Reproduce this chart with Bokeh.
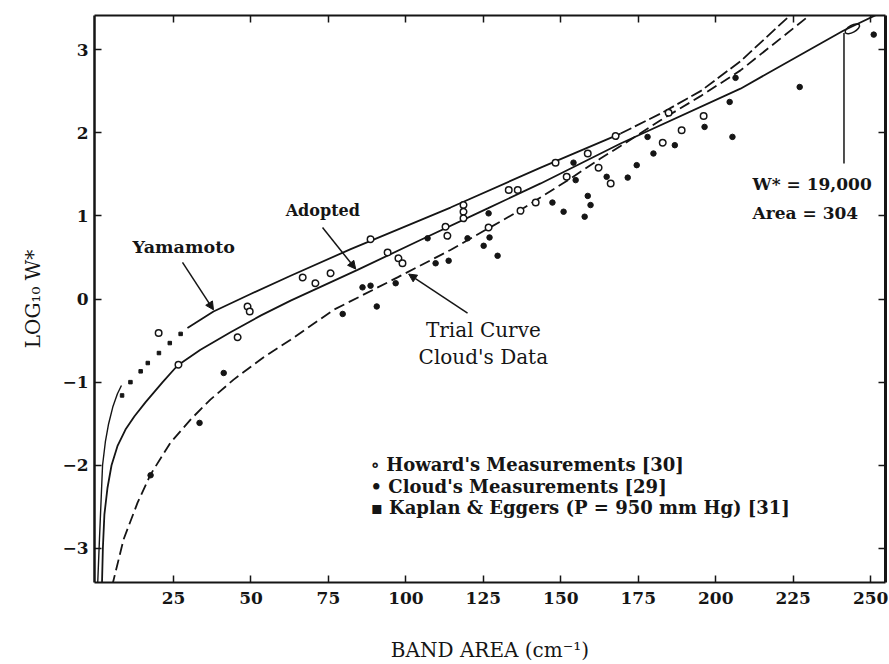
from bokeh.plotting import figure
from bokeh.models import (Range1d, LinearAxis, FixedTicker, Label, Arrow,
                          NormalHead, CustomJSTickFormatter)
from bokeh.embed import file_html
from bokeh.resources import INLINE

# ---------------- data ----------------
x_ticks = [25, 50, 75, 100, 125, 150, 175, 200, 225, 250]
y_ticks = [-3, -2, -1, 0, 1, 2, 3]

# Yamamoto curve (lower thin part, middle solid part, upper dashed part)
yam_low_x = [0.5, 1.1, 2.1, 3.0, 4.0, 5.4, 6.9, 8.2]
yam_low_y = [-3.45, -2.89, -2.00, -1.72, -1.51, -1.30, -1.14, -1.04]
yam_mid_x = [29.5, 37.9, 49.9, 62.8, 82.2, 114.4, 143.5, 169.3]
yam_mid_y = [-0.35, -0.15, 0.06, 0.28, 0.60, 1.10, 1.58, 1.99]
yam_up_x = [169.3, 182.2, 195.1, 208.0, 225.1]
yam_up_y = [1.99, 2.23, 2.50, 2.86, 3.45]

# Adopted curve
adopt_x = [1.9, 2.2, 2.7, 3.7, 5.0, 6.9, 9.5, 12.4, 16.0, 21.5, 26.3, 33.7,
           43.4, 53.1, 62.8, 84.4, 104.7, 126.4, 143.5, 169.3, 208.0, 241.3, 254.8]
adopt_y = [-3.45, -3.00, -2.59, -2.27, -2.00, -1.77, -1.57, -1.41, -1.24, -1.00,
           -0.80, -0.61, -0.40, -0.20, -0.02, 0.35, 0.71, 1.09, 1.39, 1.87, 2.53, 3.23, 3.47]

# Trial curve (Cloud's data)
trial_x = [5.2, 8.9, 13.4, 17.6, 24.0, 30.5, 36.9, 44.4, 54.1, 62.8, 76.7, 97.3,
           114.4, 137.0, 153.2, 162.8, 169.3, 182.2, 195.1, 208.0, 231.6]
trial_y = [-3.45, -2.89, -2.45, -2.11, -1.73, -1.45, -1.21, -0.97, -0.70, -0.49,
           -0.13, 0.26, 0.59, 1.07, 1.45, 1.69, 1.84, 2.15, 2.44, 2.75, 3.45]

# Howard's measurements (open circles)
howard_x = [20.2, 26.6, 45.7, 48.9, 49.6, 66.7, 70.8, 75.7, 88.6, 94.1, 97.6, 98.9,
            112.8, 113.4, 118.6, 118.6, 118.6, 126.7, 133.2, 136.1, 137.0, 141.9,
            148.3, 151.9, 158.7, 162.2, 166.1, 167.7, 182.9, 184.8, 189.0, 196.1]
howard_y = [-0.41, -0.79, -0.46, -0.09, -0.15, 0.26, 0.19, 0.31, 0.72, 0.56, 0.49, 0.43,
            0.87, 0.76, 1.13, 1.05, 0.97, 0.86, 1.31, 1.31, 1.06, 1.16,
            1.64, 1.47, 1.75, 1.58, 1.39, 1.96, 1.88, 2.24, 2.03, 2.20]

# Cloud's measurements (filled dots)
cloud_x = [17.6, 33.4, 41.2, 79.6, 86.0, 88.6, 90.6, 96.7, 107.0, 109.6, 113.8,
           119.9, 125.1, 127.0, 129.6, 126.7, 147.3, 150.9, 154.1, 154.8, 158.7,
           159.6, 157.7, 164.8, 171.6, 174.5, 178.0, 179.9, 186.8, 196.4, 204.5,
           205.4, 206.4, 227.1, 251.0]
cloud_y = [-2.12, -1.49, -0.89, -0.18, 0.14, 0.16, -0.09, 0.19, 0.73, 0.43, 0.46,
           0.73, 0.64, 0.74, 0.52, 1.03, 1.16, 1.05, 1.64, 1.43, 1.24,
           1.13, 0.99, 1.47, 1.46, 1.61, 1.95, 1.75, 1.85, 2.07, 2.37,
           1.95, 2.66, 2.55, 3.18]

# Kaplan & Eggers (P = 950 mm Hg)
kaplan_x = [8.4, 11.1, 14.4, 16.7, 20.3, 23.8, 27.3]
kaplan_y = [-1.16, -1.00, -0.87, -0.77, -0.65, -0.53, -0.42]

# W* = 19,000 / Area = 304 marker
note_x = [244.1]
note_y = [3.25]
note_line_x = [241.4, 241.4]
note_line_y = [1.63, 3.20]

INK = "#151515"
SERIF = "DejaVu Serif"

p = figure(width=889, height=664, output_backend="svg", toolbar_location=None,
           x_range=Range1d(-0.5, 254.8), y_range=Range1d(-3.41, 3.41),
           min_border_left=94, min_border_right=4, min_border_top=15,
           min_border_bottom=81)
p.background_fill_color = "white"
p.border_fill_color = "white"
p.outline_line_color = None
p.xgrid.grid_line_color = None
p.ygrid.grid_line_color = None

# bottom axis
xa = p.xaxis[0]
xa.ticker = FixedTicker(ticks=x_ticks)
xa.major_tick_in = 7
xa.major_tick_out = 0
xa.minor_tick_line_color = None
xa.axis_line_width = 2
xa.axis_line_color = INK
xa.major_tick_line_color = INK
xa.major_tick_line_width = 1.5
xa.major_label_text_font = SERIF
xa.major_label_text_font_style = "bold"
xa.major_label_text_font_size = "17px"
xa.major_label_text_color = INK
xa.major_label_standoff = 9
xa.axis_label = "BAND AREA (cm\u207b\u00b9)"
xa.axis_label_text_font = SERIF
xa.axis_label_text_font_style = "normal"
xa.axis_label_text_font_size = "20px"
xa.axis_label_text_color = INK
xa.axis_label_standoff = 31

# left axis
ya = p.yaxis[0]
ya.ticker = FixedTicker(ticks=y_ticks)
ya.major_tick_in = 7
ya.major_tick_out = 0
ya.minor_tick_line_color = None
ya.axis_line_width = 2.5
ya.axis_line_color = INK
ya.major_tick_line_color = INK
ya.major_tick_line_width = 1.5
ya.major_label_text_font = SERIF
ya.major_label_text_font_style = "bold"
ya.major_label_text_font_size = "17px"
ya.major_label_text_color = INK
ya.major_label_standoff = 6
ya.axis_label = "LOG\u2081\u2080 W*"
ya.axis_label_text_font = SERIF
ya.axis_label_text_font_style = "normal"
ya.axis_label_text_font_size = "20px"
ya.axis_label_text_color = INK
ya.axis_label_standoff = 14

blank = CustomJSTickFormatter(code="return ''")
top = LinearAxis(ticker=FixedTicker(ticks=x_ticks), formatter=blank,
                 major_tick_in=7, major_tick_out=0, minor_tick_line_color=None,
                 axis_line_width=2, axis_line_color=INK, major_tick_line_color=INK,
                 major_tick_line_width=1.5, major_label_standoff=0)
p.add_layout(top, "above")
right = LinearAxis(ticker=FixedTicker(ticks=y_ticks), formatter=blank,
                   major_tick_in=7, major_tick_out=0, minor_tick_line_color=None,
                   axis_line_width=3, axis_line_color=INK, major_tick_line_color=INK,
                   major_tick_line_width=1.5, major_label_standoff=0)
p.add_layout(right, "right")

# curves
p.line(yam_low_x, yam_low_y, line_color=INK, line_width=1.4)
p.line(yam_mid_x, yam_mid_y, line_color=INK, line_width=1.8)
p.line(yam_up_x, yam_up_y, line_color=INK, line_width=1.8, line_dash="12 4")
p.line(adopt_x, adopt_y, line_color=INK, line_width=1.8)
p.line(trial_x, trial_y, line_color=INK, line_width=1.8, line_dash="11 5")

# points
p.scatter(howard_x, howard_y, marker="circle", size=6.5, fill_color="white",
          line_color=INK, line_width=1.5)
p.scatter(cloud_x, cloud_y, marker="circle", size=5.5, fill_color=INK, line_color=INK)
p.scatter(kaplan_x, kaplan_y, marker="square", size=3.5, fill_color=INK, line_color=INK)

# W* note
p.line(note_line_x, note_line_y, line_color=INK, line_width=1.5)
p.ellipse(note_x, note_y, width=16, height=7, angle=0.5, width_units="screen",
          height_units="screen", fill_color=None, line_color=INK, line_width=1.5)

# arrows
head = dict(size=8, fill_color=INK, line_color=INK)
p.add_layout(Arrow(x_start=27.9, y_start=0.44, x_end=37.9, y_end=-0.13,
                   line_color=INK, line_width=1.5, end=NormalHead(**head)))
p.add_layout(Arrow(x_start=73.1, y_start=0.86, x_end=83.8, y_end=0.36,
                   line_color=INK, line_width=1.5, end=NormalHead(**head)))
p.add_layout(Arrow(x_start=119.9, y_start=-0.17, x_end=100.9, y_end=0.30,
                   line_color=INK, line_width=1.5, end=NormalHead(**head)))

def lab(x, y, text, size="17px", style="bold", align="left"):
    p.add_layout(Label(x=x, y=y, text=text, text_font=SERIF, text_font_size=size,
                       text_font_style=style, text_color=INK, text_align=align,
                       text_baseline="middle"))

lab(11.8, 0.62, "Yamamoto", size="17.5px")
lab(61.2, 1.07, "Adopted", size="16px")
lab(125.0, -0.37, "Trial Curve", size="20px", style="normal", align="center")
lab(125.0, -0.70, "Cloud's Data", size="20px", style="normal", align="center")
lab(211.9, 1.38, "W* = 19,000", size="17px")
lab(211.9, 1.04, "Area = 304", size="17px")
lab(88.6, -1.99, "\u2218 Howard's Measurements [30]", size="18px")
lab(88.6, -2.26, "\u2022 Cloud's Measurements [29]", size="18px")
lab(88.6, -2.51, "\u25aa Kaplan & Eggers (P = 950 mm Hg) [31]", size="18px")

open("out.html", "w").write(file_html(p, INLINE))
